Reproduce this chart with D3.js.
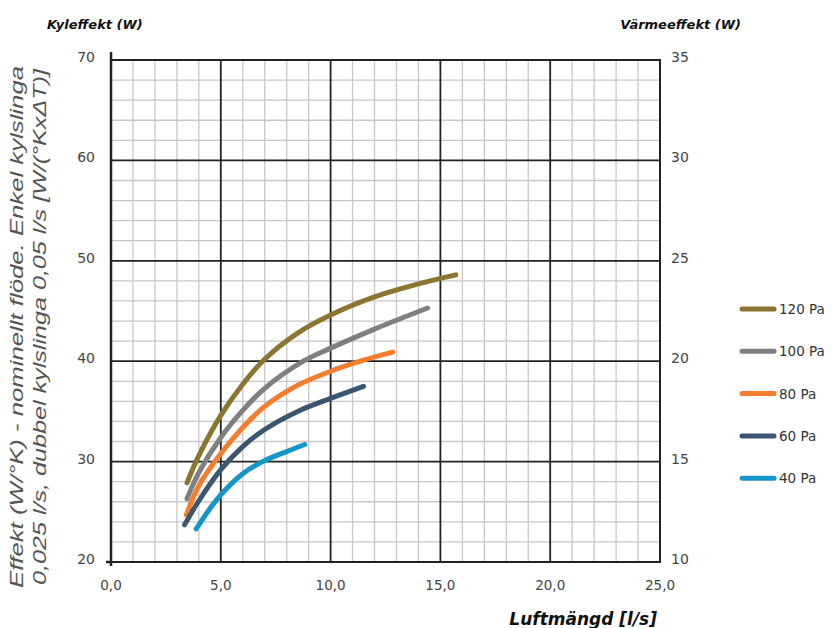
<!DOCTYPE html>
<html>
<head>
<meta charset="utf-8">
<script src="https://cdn.jsdelivr.net/npm/d3@7"></script>
<style>
  body { margin: 0; background: #fff; }
  svg { display: block; }
</style>
</head>
<body>
<div id="chart"></div>
<script>
var width = 833;
var height = 628;

// series: [Luftmängd l/s, Effekt]
var pa120 = [[3.46, 27.9], [4.0, 30.6], [5.0, 34.6], [6.0, 37.7], [7.0, 40.2], [8.5, 42.8], [10.0, 44.6], [12.0, 46.4], [14.0, 47.7], [15.7, 48.6]];
var pa100 = [[3.46, 26.3], [4.0, 28.9], [5.0, 32.4], [6.0, 35.1], [7.0, 37.3], [8.76, 40.0], [10.0, 41.3], [12.0, 43.2], [14.42, 45.3]];
var pa80 = [[3.43, 24.7], [4.0, 27.6], [5.0, 30.8], [6.0, 33.4], [7.0, 35.5], [8.5, 37.6], [10.0, 39.0], [11.5, 40.1], [12.83, 40.9]];
var pa60 = [[3.35, 23.7], [4.0, 26.1], [5.0, 29.2], [6.0, 31.5], [7.0, 33.2], [8.5, 35.0], [10.0, 36.3], [11.5, 37.5]];
var pa40 = [[3.88, 23.3], [4.5, 25.3], [5.0, 26.7], [6.0, 28.8], [7.0, 30.1], [8.0, 31.0], [8.82, 31.7]];

var seriesNames = ['120 Pa', '100 Pa', '80 Pa', '60 Pa', '40 Pa'];
var seriesData = [pa120, pa100, pa80, pa60, pa40];
var colors = ['#8c7431', '#7f7f7f', '#f47d30', '#3a5670', '#1497c8'];

var xTicks = [0, 5, 10, 15, 20, 25];
var yTicksLeft = [20, 30, 40, 50, 60, 70];
var yTicksRight = [10, 15, 20, 25, 30, 35];

var margin = {left: 111, right: 173, top: 60, bottom: 66};

var svg = d3.select('#chart')
    .append('svg')
    .attr('width', width)
    .attr('height', height)
    .style('font-family', '"DejaVu Sans", sans-serif');

var x = d3.scaleLinear().domain([0, 25]).range([margin.left, width - margin.right]);
var y = d3.scaleLinear().domain([20, 70]).range([height - margin.bottom, margin.top]);
var y2 = d3.scaleLinear().domain([10, 35]).range([height - margin.bottom, margin.top]);

// minor grid
var grid = svg.append('g');
grid.selectAll('.vminor')
    .data(d3.range(1, 25).filter(function(d) { return d % 5 != 0; }))
    .enter().append('line')
    .attr('x1', function(d) { return x(d); })
    .attr('x2', function(d) { return x(d); })
    .attr('y1', y(20)).attr('y2', y(70))
    .attr('stroke', '#c8c8c8').attr('stroke-width', 1.3);
grid.selectAll('.hminor')
    .data(d3.range(22, 70, 2).filter(function(d) { return d % 10 != 0; }))
    .enter().append('line')
    .attr('y1', function(d) { return y(d); })
    .attr('y2', function(d) { return y(d); })
    .attr('x1', x(0)).attr('x2', x(25))
    .attr('stroke', '#c8c8c8').attr('stroke-width', 1.3);

// major grid
grid.selectAll('.vmajor')
    .data(xTicks.slice(1, -1))
    .enter().append('line')
    .attr('x1', function(d) { return x(d); })
    .attr('x2', function(d) { return x(d); })
    .attr('y1', y(20)).attr('y2', y(70))
    .attr('stroke', '#222').attr('stroke-width', 1.8);
grid.selectAll('.hmajor')
    .data(yTicksLeft.slice(1, -1))
    .enter().append('line')
    .attr('y1', function(d) { return y(d); })
    .attr('y2', function(d) { return y(d); })
    .attr('x1', x(0)).attr('x2', x(25))
    .attr('stroke', '#222').attr('stroke-width', 1.8);

// frame
svg.append('rect')
    .attr('x', x(0)).attr('y', y(70))
    .attr('width', x(25) - x(0)).attr('height', y(20) - y(70))
    .attr('fill', 'none').attr('stroke', '#222').attr('stroke-width', 2);
svg.append('line')
    .attr('x1', x(0)).attr('x2', x(0))
    .attr('y1', y(70) - 8).attr('y2', y(20) + 4)
    .attr('stroke', '#222').attr('stroke-width', 2.5);
svg.append('line')
    .attr('x1', x(0) - 5).attr('x2', x(0))
    .attr('y1', y(20)).attr('y2', y(20))
    .attr('stroke', '#222').attr('stroke-width', 2.5);

// tick labels
svg.append('g').selectAll('text')
    .data(xTicks).enter().append('text')
    .attr('x', function(d) { return x(d); })
    .attr('y', y(20) + 28)
    .attr('text-anchor', 'middle')
    .attr('font-size', 13.5)
    .attr('fill', '#444')
    .text(function(d) { return d.toFixed(1).replace('.', ','); });

svg.append('g').selectAll('text')
    .data(yTicksLeft).enter().append('text')
    .attr('x', x(0) - 16)
    .attr('y', function(d) { return y(d) + 2; })
    .attr('text-anchor', 'end')
    .attr('font-size', 14)
    .attr('fill', '#444')
    .text(function(d) { return d; });

svg.append('g').selectAll('text')
    .data(yTicksRight).enter().append('text')
    .attr('x', x(25) + 11)
    .attr('y', function(d) { return y2(d) + 2; })
    .attr('font-size', 14)
    .attr('fill', '#444')
    .text(function(d) { return d; });

// titles
svg.append('text')
    .attr('x', 47).attr('y', 29)
    .attr('font-size', 13).attr('font-weight', 'bold').attr('font-style', 'italic')
    .attr('fill', '#111')
    .text('Kyleffekt (W)');
svg.append('text')
    .attr('x', 741).attr('y', 29)
    .attr('text-anchor', 'end')
    .attr('font-size', 13).attr('font-weight', 'bold').attr('font-style', 'italic')
    .attr('fill', '#111')
    .text('Värmeeffekt (W)');
svg.append('text')
    .attr('x', 657).attr('y', 625)
    .attr('text-anchor', 'end')
    .attr('font-size', 17).attr('font-weight', 'bold').attr('font-style', 'italic')
    .attr('fill', '#111')
    .text('Luftmängd [l/s]');

var yLabel = svg.append('g')
    .attr('transform', 'translate(0, 327) rotate(-90)')
    .style('font-family', '"Liberation Sans", sans-serif');
yLabel.append('text')
    .attr('x', 0).attr('y', 23)
    .attr('text-anchor', 'middle')
    .attr('font-size', 18).attr('font-style', 'italic')
    .attr('fill', '#555')
    .attr('textLength', 522).attr('lengthAdjust', 'spacingAndGlyphs')
    .text('Effekt  (W/°K) - nominellt flöde. Enkel kylslinga');
yLabel.append('text')
    .attr('x', 0).attr('y', 46)
    .attr('text-anchor', 'middle')
    .attr('font-size', 18).attr('font-style', 'italic')
    .attr('fill', '#555')
    .attr('textLength', 516).attr('lengthAdjust', 'spacingAndGlyphs')
    .text('0,025 l/s, dubbel kylslinga 0,05 l/s [W/(°KxΔT)]');

// curves
var line = d3.line()
    .x(function(d) { return x(d[0]); })
    .y(function(d) { return y(d[1]); })
    .curve(d3.curveCatmullRom.alpha(0.5));

svg.append('g').selectAll('path')
    .data(seriesData).enter().append('path')
    .attr('d', line)
    .attr('fill', 'none')
    .attr('stroke', function(d, i) { return colors[i]; })
    .attr('stroke-width', 5)
    .attr('stroke-linecap', 'round');

// legend
var legend = svg.append('g').selectAll('g')
    .data(seriesNames).enter().append('g')
    .attr('transform', function(d, i) { return 'translate(740,' + (309 + i * 42.3) + ')'; });
legend.append('line')
    .attr('x1', 2).attr('x2', 34)
    .attr('stroke', function(d, i) { return colors[i]; })
    .attr('stroke-width', 5)
    .attr('stroke-linecap', 'round');
legend.append('text')
    .attr('x', 39).attr('y', 5)
    .attr('font-size', 13.5)
    .attr('fill', '#333')
    .text(function(d) { return d; });
</script>
</body>
</html>
